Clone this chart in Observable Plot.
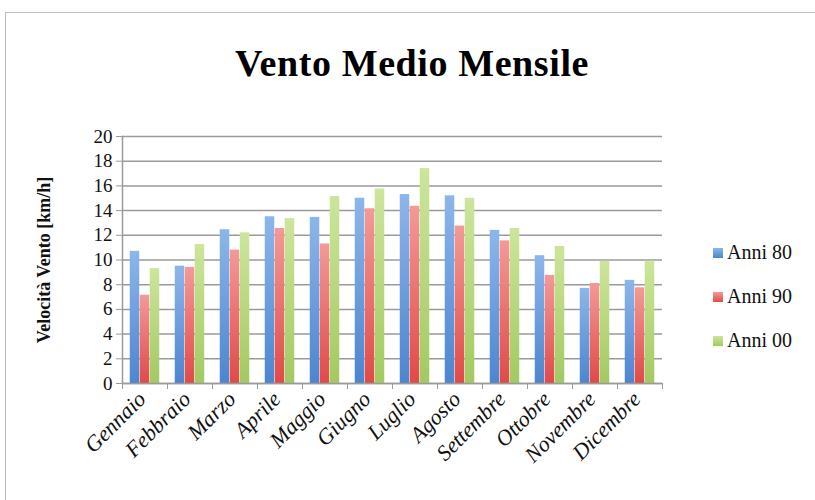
<!DOCTYPE html>
<html>
<head>
<meta charset="utf-8">
<script src="https://cdn.jsdelivr.net/npm/d3@7"></script>
<script src="https://cdn.jsdelivr.net/npm/@observablehq/plot@0.6"></script>
<style>
  html, body { margin: 0; padding: 0; background: #fff; }
  #wrap { position: relative; width: 815px; height: 500px; overflow: hidden; background: #fff; font-family: "Liberation Serif", "DejaVu Serif", serif; }
  #border { position: absolute; left: 5px; top: 12px; width: 830px; height: 520px; border-left: 1.5px solid #bdbdbd; border-top: 1.5px solid #bdbdbd; box-sizing: border-box; }
  #title { position: absolute; left: 0; width: 824px; top: 41px; text-align: center; font-family: "Liberation Serif", serif; font-weight: bold; font-size: 38px; letter-spacing: 0.6px; color: #000; }
  #legend { position: absolute; left: 713px; top: 0; font-family: "Liberation Serif", serif; font-size: 20px; color: #111; }
  .lg { position: absolute; left: 0; white-space: nowrap; display: flex; align-items: center; font-family: "Liberation Serif", serif; }
  .sw { width: 10px; height: 10px; margin-right: 4px; display: inline-block; }
  #chart { position: absolute; left: 0; top: 0; }
</style>
</head>
<body>
<div id="wrap">
  <div id="border"></div>
  <div id="chart"></div>
  <div id="title">Vento Medio Mensile</div>
  <div id="legend"></div>
</div>
<script>
const months = ["Gennaio","Febbraio","Marzo","Aprile","Maggio","Giugno","Luglio","Agosto","Settembre","Ottobre","Novembre","Dicembre"];
const seriesNames = ["Anni 80","Anni 90","Anni 00"];
const anni80 = [10.7, 9.5, 12.45, 13.5, 13.45, 15.0, 15.3, 15.2, 12.4, 10.35, 7.7, 8.35];
const anni90 = [7.15, 9.4, 10.8, 12.55, 11.3, 14.15, 14.35, 12.75, 11.55, 8.75, 8.1, 7.75];
const anni00 = [9.3, 11.25, 12.2, 13.35, 15.15, 15.75, 17.4, 15.0, 12.55, 11.1, 9.9, 9.9];
const yTicks = [0,2,4,6,8,10,12,14,16,18,20];
const yLabel = "Velocità Vento [km/h]";

const gradStops = [["#8db6ea", "#4c85d0"], ["#f39a98", "#e04a48"], ["#cde59c", "#a2ca60"]];
const offsets = [-10, 0, 10];
const seriesValues = [anni80, anni90, anni00];

const table = [];
seriesNames.forEach((s, i) => months.forEach((m, j) => table.push({series: s, month: m, value: seriesValues[i][j]})));

const W = 815, H = 500;
const mL = 122, mR = 153, mT = 136, mB = 117;
const bandW = (W - mL - mR) / months.length;
const barW = 9.5;
const inset = (bandW - barW) / 2;
const grid = "#9a9a9a";

const marks = [
  Plot.gridY(yTicks, {stroke: grid, strokeOpacity: 1, strokeWidth: 1.5}),
  ...seriesNames.map((s, i) => Plot.barY(table.filter(d => d.series === s), {
    x: "month", y: "value", fill: `url(#grad${i})`, dx: offsets[i], insetLeft: inset, insetRight: inset
  })),
  Plot.frame({anchor: "left", stroke: grid, strokeWidth: 1.5}),
  Plot.ruleY([0], {stroke: grid, strokeWidth: 1.5}),
  Plot.axisY(yTicks, {tickSize: 6, tickPadding: 4, fontSize: 19, stroke: grid, fill: "#111", label: null, fontFamily: "Liberation Serif"}),
  Plot.axisX(months, {tickSize: 6, tickFormat: () => "", dx: -bandW / 2, stroke: grid, label: null}),
  Plot.axisX([months[months.length - 1]], {tickSize: 6, tickFormat: () => "", dx: bandW / 2, stroke: grid, label: null}),
  Plot.axisX(months, {tickSize: 0, tickPadding: 12, tickRotate: -45, fontStyle: "italic", fontSize: 22, fill: "#111", dx: -3, label: null, fontFamily: "Liberation Serif"}),
  Plot.text([yLabel], {frameAnchor: "left", textAnchor: "middle", rotate: -90, dx: -78, fontWeight: "bold", fontSize: 18, fill: "#111", fontFamily: "Liberation Serif"})
];

const chart = Plot.plot({
  width: W, height: H,
  marginLeft: mL, marginRight: mR, marginTop: mT, marginBottom: mB,
  style: {background: "transparent", fontFamily: "Liberation Serif"},
  x: {type: "band", domain: months, padding: 0, axis: null},
  y: {domain: [0, 20], axis: null},
  marks
});
const defs = d3.select(chart).insert("defs", ":first-child");
gradStops.forEach((st, i) => {
  const g = defs.append("linearGradient").attr("id", `grad${i}`).attr("x1", 0).attr("y1", 0).attr("x2", 0).attr("y2", 1);
  g.append("stop").attr("offset", "0%").attr("stop-color", st[0]);
  g.append("stop").attr("offset", "100%").attr("stop-color", st[1]);
});
document.getElementById("chart").appendChild(chart);

const legend = document.getElementById("legend");
const legendY = [253, 297, 341];
seriesNames.forEach((s, i) => {
  const row = document.createElement("div");
  row.className = "lg";
  row.style.top = (legendY[i] - 12) + "px";
  const sw = document.createElement("span");
  sw.className = "sw";
  sw.style.background = `linear-gradient(${gradStops[i][0]}, ${gradStops[i][1]})`;
  const t = document.createElement("span");
  t.textContent = s;
  row.appendChild(sw); row.appendChild(t);
  legend.appendChild(row);
});
</script>
</body>
</html>
